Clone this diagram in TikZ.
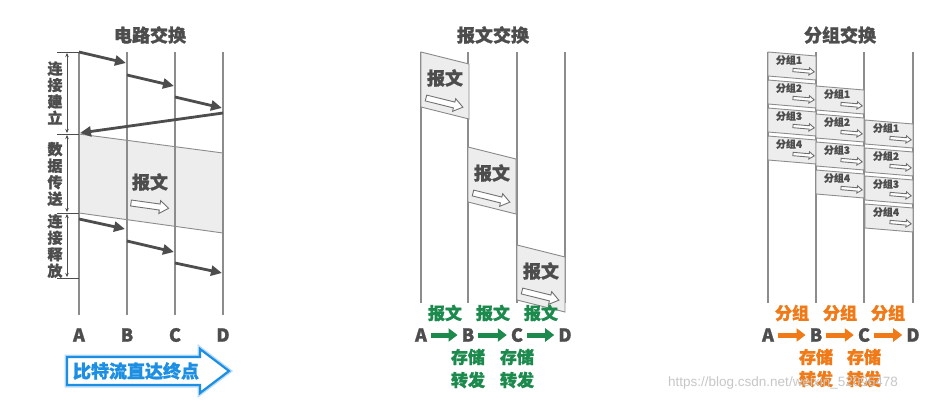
\documentclass[tikz,border=0pt]{standalone}
\usepackage{fontspec}
\setmainfont{Noto Sans CJK SC}[BoldFeatures={FakeBold=1.2}]
\newfontfamily\wmfont{Liberation Sans}
\usetikzlibrary{arrows.meta}
\definecolor{ln}{HTML}{8C8C8C}
\definecolor{dk}{HTML}{4D4D4D}
\definecolor{grn}{HTML}{1B8A4C}
\definecolor{org}{HTML}{F07A17}
\definecolor{blu}{HTML}{1C8FE3}
\definecolor{boxfill}{HTML}{EDEDED}
\tikzset{
  title/.style={font=\bfseries\fontsize{18}{20}\selectfont, text=dk, inner sep=1pt},
  lbl/.style={font=\bfseries\fontsize{18}{20}\selectfont, text=dk, inner sep=1pt},
  side/.style={font=\bfseries\fontsize{15}{16.5}\selectfont, text=dk, align=center, inner sep=0pt},
  vline/.style={draw=ln, line width=1.1pt},
  carrow/.style={draw=dk, line width=2.8pt, -{Triangle[length=11pt,width=10pt]}},
  bracket/.style={draw=dk, line width=0.8pt, {Stealth[length=4pt,width=3.5pt]}-{Stealth[length=4pt,width=3.5pt]}},
  tick/.style={draw=dk, line width=0.8pt},
  boxst/.style={draw=ln, fill=boxfill, line width=0.9pt},
  msgtext/.style={font=\bfseries\fontsize{18}{20}\selectfont, text=dk, inner sep=0pt},
  pkttext/.style={font=\bfseries\fontsize{10}{11}\selectfont, text=dk, inner sep=0pt},
  gtext/.style={font=\bfseries\fontsize{17}{19}\selectfont, text=grn, inner sep=0pt},
  otext/.style={font=\bfseries\fontsize{17}{19}\selectfont, text=org, inner sep=0pt},
  garrow/.style={draw=grn, line width=5pt, -{Triangle[length=9pt,width=13pt]}},
  oarrow/.style={draw=org, line width=5pt, -{Triangle[length=9pt,width=13pt]}},
  harrow/.pic={\draw[draw=ln!80!black, fill=white, line width=0.9pt, line join=miter]
     (0,-3) -- (29,-3) -- (29,-6.5) -- (38,0) -- (29,6.5) -- (29,3) -- (0,3) -- cycle;}
}
\newcommand\pkt[4]{% x, y, number, column
  \draw[boxst] (#1,#2) -- (#1+48,#2+4) -- (#1+48,#2+28) -- (#1,#2+24) -- cycle;
  \node[pkttext] (pk#4n#3) at (#1+21,#2+8) {分组#3};
  \pic[scale=.56, rotate=-5] at (#1+25,#2+18) {harrow};
}
\newcommand\msgbox[3]{% x, y, name
  \draw[boxst] (#1,#2) -- (#1+48,#2+12) -- (#1+48,#2+67) -- (#1,#2+55) -- cycle;
  \node[msgtext] (#3) at (#1+24,#2+26) {报文};
  \pic[rotate=-14] at (#1+5,#2+46) {harrow};
}
\begin{document}
\begin{tikzpicture}[x=1pt,y=-1pt]
\useasboundingbox[fill=white] (0,0) rectangle (929,402);

%================ circuit switching =================
\node[title] (t1) at (150,35) {电路交换};
\fill[boxfill] (79,134) -- (223,153) -- (223,233) -- (79,213) -- cycle;
\draw[draw=ln, line width=0.9pt] (79,134) -- (223,153);
\draw[draw=ln, line width=0.9pt] (79,213) -- (223,233);
\foreach \x/\n in {79/A,127/B,175/C,223/D}{
  \draw[vline] (\x,52) -- (\x,315);
  \node[lbl] (c\n) at (\x,335) {\n};
}
\node[msgtext] (cmsg) at (150,182) {报文};
\pic[rotate=-8] at (131,203) {harrow};

\coordinate (c1s) at (79,52);  \coordinate (c1e) at (126,63);
\coordinate (c2s) at (127,75); \coordinate (c2e) at (174,86);
\coordinate (c3s) at (175,97); \coordinate (c3e) at (222,108);
\coordinate (crs) at (223,113); \coordinate (cre) at (80,133);
\coordinate (r1s) at (79,219); \coordinate (r1e) at (125,229);
\coordinate (r2s) at (127,241); \coordinate (r2e) at (174,252);
\coordinate (r3s) at (175,263); \coordinate (r3e) at (222,273);
\draw[carrow] (c1s) -- (c1e);
\draw[carrow] (c2s) -- (c2e);
\draw[carrow] (c3s) -- (c3e);
\draw[carrow] (crs) -- (cre);
\draw[carrow] (r1s) -- (r1e);
\draw[carrow] (r2s) -- (r2e);
\draw[carrow] (r3s) -- (r3e);

% side brackets
\coordinate (b0) at (67,52); \coordinate (b1) at (67,134);
\coordinate (b2) at (67,213); \coordinate (b3) at (67,278);
\draw[bracket] (67,53) -- (67,133);
\draw[bracket] (67,135) -- (67,212);
\draw[bracket] (67,214) -- (67,277);
\foreach \y in {52,134,213,278}{\draw[tick] (57,\y) -- (79,\y);}
\node[side] (s1) at (55,93) {连\\接\\建\\立};
\node[side] (s2) at (55,174) {数\\据\\传\\送};
\node[side] (s3) at (55,246) {连\\接\\释\\放};

% blue arrow
\draw[blu!30, line width=5pt, line join=miter]
  (67,357) -- (200,357) -- (200,349) -- (229,371) -- (200,393) -- (200,385) -- (67,385) -- cycle;
\draw[blu, fill=white, line width=2.2pt, line join=miter]
  (67,357) -- (200,357) -- (200,349) -- (229,371) -- (200,393) -- (200,385) -- (67,385) -- cycle;
\node[font=\bfseries\fontsize{18}{20}\selectfont, text=blu, inner sep=0pt] (bitflow) at (136,371) {比特流直达终点};

%================ message switching =================
\node[title] (t2) at (493,35) {报文交换};
\foreach \x/\n in {421/A,468/B,517/C,565/D}{
  \draw[vline] (\x,52) -- (\x,303);
}
\msgbox{421}{52}{m1}
\msgbox{468}{147}{m2}
\msgbox{517}{245}{m3}
\foreach \x/\n in {421/A,468/B,517/C,565/D}{
  \node[lbl] (m\n) at (\x,335) {\n};
}
\draw[garrow] ([xshift=3pt]mA.east) -- ([xshift=-3pt]mB.west);
\draw[garrow] ([xshift=3pt]mB.east) -- ([xshift=-3pt]mC.west);
\draw[garrow] ([xshift=3pt]mC.east) -- ([xshift=-3pt]mD.west);
\node[gtext] (g1) at (445,313) {报文};
\node[gtext] (g2) at (493,313) {报文};
\node[gtext] (g3) at (541,313) {报文};
\node[gtext] (gs1) at (468,357) {存储};
\node[gtext] (gf1) at (468,380) {转发};
\node[gtext] (gs2) at (517,357) {存储};
\node[gtext] (gf2) at (517,380) {转发};

%================ packet switching =================
\node[title] (t3) at (840,35) {分组交换};
\foreach \x in {768,816,864,913}{
  \draw[vline] (\x,52) -- (\x,303);
}
\pkt{768}{52}{1}{a}  \pkt{768}{80}{2}{a}  \pkt{768}{108}{3}{a}  \pkt{768}{136}{4}{a}
\pkt{816}{86}{1}{b}  \pkt{816}{114}{2}{b} \pkt{816}{142}{3}{b}  \pkt{816}{170}{4}{b}
\pkt{865}{120}{1}{c} \pkt{865}{148}{2}{c} \pkt{865}{176}{3}{c}  \pkt{865}{204}{4}{c}
\foreach \x/\n in {768/A,816/B,864/C,913/D}{
  \node[lbl] (p\n) at (\x,335) {\n};
}
\draw[oarrow] ([xshift=3pt]pA.east) -- ([xshift=-3pt]pB.west);
\draw[oarrow] ([xshift=3pt]pB.east) -- ([xshift=-3pt]pC.west);
\draw[oarrow] ([xshift=3pt]pC.east) -- ([xshift=-3pt]pD.west);
\node[otext] (o1) at (792,313) {分组};
\node[otext] (o2) at (840,313) {分组};
\node[otext] (o3) at (888,313) {分组};
\node[otext] (os1) at (816,357) {存储};
\node[otext] (of1) at (816,379) {转发};
\node[otext] (os2) at (864,357) {存储};
\node[otext] (of2) at (864,379) {转发};

% watermark
\node[font=\wmfont\fontsize{13.5}{15}\selectfont, text=black!22, inner sep=0pt] (wm) at (783,383) {https://blog.csdn.net/weixin\_52096478};
\end{tikzpicture}
\end{document}
